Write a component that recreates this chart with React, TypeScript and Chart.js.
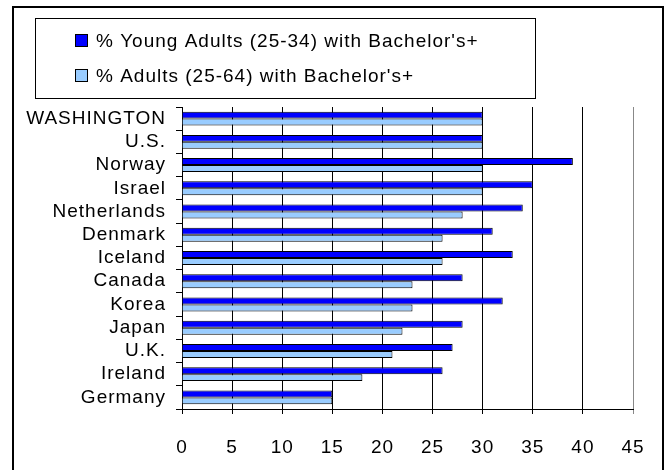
import React, { useEffect, useRef } from "react";
import { Chart, registerables } from "chart.js";

Chart.register(...registerables);

const categories = [
  "WASHINGTON",
  "U.S.",
  "Norway",
  "Israel",
  "Netherlands",
  "Denmark",
  "Iceland",
  "Canada",
  "Korea",
  "Japan",
  "U.K.",
  "Ireland",
  "Germany",
];
const youngAdults = [30, 30, 39, 35, 34, 31, 33, 28, 32, 28, 27, 26, 15];
const allAdults = [30, 30, 30, 30, 28, 26, 26, 23, 23, 22, 21, 18, 15];
const seriesNames = [
  "% Young Adults (25-34) with Bachelor's+",
  "% Adults (25-64) with Bachelor's+",
];
const seriesColors = ["#0000FF", "#99CCFF"];

const FONT = "'Liberation Sans', Arial, sans-serif";
const SPACING = "1px";
const SIZE = 19;

const framePlugin = {
  id: "frameAndLegend",
  beforeLayout(chart: any) {
    chart.ctx.letterSpacing = SPACING;
  },
  beforeDraw(chart: any) {
    chart.ctx.letterSpacing = SPACING;
  },
  afterDraw(chart: any) {
    const ctx = chart.ctx as CanvasRenderingContext2D;
    ctx.save();
    ctx.strokeStyle = "#000";
    ctx.lineWidth = 2;
    ctx.strokeRect(13, 7, 650, 475);
    ctx.lineWidth = 1;
    ctx.strokeRect(35.5, 18.5, 500, 80);
    ctx.font = `${SIZE}px ${FONT}`;
    (ctx as any).letterSpacing = SPACING;
    ctx.textAlign = "left";
    ctx.textBaseline = "middle";
    const rows = [41, 76];
    chart.data.datasets.forEach((ds: any, i: number) => {
      const y = rows[i];
      ctx.fillStyle = ds.backgroundColor;
      ctx.fillRect(75.5, y - 6.5, 12, 12);
      ctx.strokeStyle = "#000";
      ctx.strokeRect(75.5, y - 6.5, 12, 12);
      ctx.fillStyle = "#000";
      ctx.fillText(ds.label, 96, y + 1);
    });
    ctx.restore();
  },
};

export default function App() {
  const ref = useRef<HTMLCanvasElement | null>(null);
  useEffect(() => {
    if (!ref.current) return;
    const chart = new Chart(ref.current, {
      type: "bar",
      data: {
        labels: categories,
        datasets: [
          {
            label: seriesNames[0],
            data: youngAdults,
            backgroundColor: seriesColors[0],
            borderColor: "#000",
            borderWidth: 1,
            borderSkipped: "start",
          },
          {
            label: seriesNames[1],
            data: allAdults,
            backgroundColor: seriesColors[1],
            borderColor: "#000",
            borderWidth: 1,
            borderSkipped: "start",
          },
        ],
      },
      options: {
        indexAxis: "y",
        animation: false,
        responsive: false,
        maintainAspectRatio: false,
        devicePixelRatio: 1,
        datasets: {
          bar: { categoryPercentage: 0.6, barPercentage: 1 },
        },
        layout: { padding: { left: 12, right: 38, top: 107, bottom: 0 } },
        plugins: {
          legend: { display: false },
          tooltip: { enabled: false },
          title: { display: false },
        },
        scales: {
          x: {
            min: 0,
            max: 45,
            ticks: {
              stepSize: 5,
              color: "#000",
              padding: 22,
              font: { family: FONT, size: SIZE },
              maxRotation: 0,
            },
            grid: {
              color: (c: any) =>
                c.tick && c.tick.value === 45 ? "#888888" : "#000000",
              lineWidth: 1,
              tickLength: 5,
              drawTicks: true,
            },
            border: { color: "#000", width: 1 },
            afterFit: (scale: any) => {
              scale.height = 61;
            },
          },
          y: {
            ticks: {
              color: "#000",
              padding: 10,
              font: { family: FONT, size: SIZE },
              autoSkip: false,
            },
            grid: {
              offset: true,
              drawOnChartArea: false,
              drawTicks: true,
              tickLength: 6,
              color: "#000",
            },
            border: { color: "#000", width: 1 },
            afterFit: (scale: any) => {
              scale.width = 170;
            },
          },
        },
      },
      plugins: [framePlugin],
    });
    return () => chart.destroy();
  }, []);
  return (
    <div style={{ position: "absolute", left: 0, top: 0, width: 671, height: 470 }}>
      <canvas ref={ref} width={671} height={470} style={{ display: "block" }} />
    </div>
  );
}
